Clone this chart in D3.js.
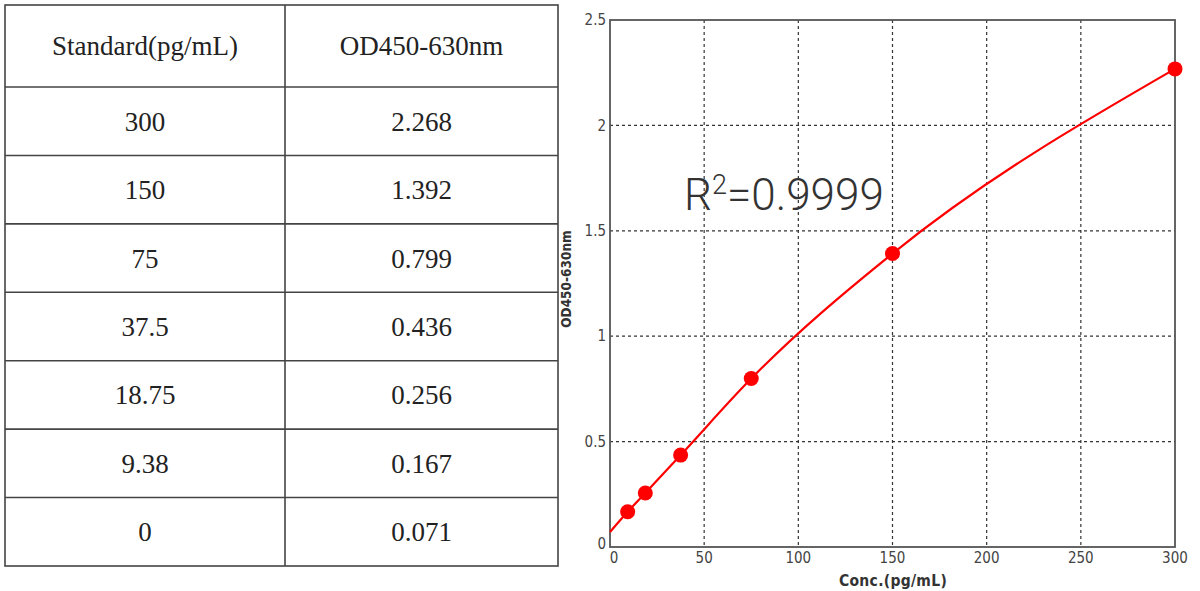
<!DOCTYPE html>
<html>
<head>
<meta charset="utf-8">
<script src="https://cdn.jsdelivr.net/npm/d3@7"></script>
<style>
  body { margin: 0; background: #fff; }
  svg { display: block; }
</style>
</head>
<body>
<svg id="fig" width="1200" height="591"></svg>
<script>
// table values
const headers = ['Standard(pg/mL)', 'OD450-630nm'];
const standards = ['300', '150', '75', '37.5', '18.75', '9.38', '0'];
const odText = ['2.268', '1.392', '0.799', '0.436', '0.256', '0.167', '0.071'];

// curve values
const conc = [0, 9.38, 18.75, 37.5, 75, 150, 300];
const od = [0.071, 0.167, 0.256, 0.436, 0.799, 1.392, 2.268];
const xTicks = [0, 50, 100, 150, 200, 250, 300];
const yTicks = [0, 0.5, 1, 1.5, 2, 2.5];

const svg = d3.select('#fig');

// ---- table ----
const tbl = { left: 5, right: 558, top: 5, headBottom: 87, bottom: 566, mid: 285 };
const table = svg.append('g');

const colX = d3.scaleOrdinal().domain([0, 1]).range([tbl.left, tbl.mid]);
const colW = [tbl.mid - tbl.left, tbl.right - tbl.mid];

const rowY = d3.scaleBand()
    .domain(d3.range(standards.length))
    .range([tbl.headBottom, tbl.bottom]);

// borders
table.append('rect')
    .attr('x', tbl.left).attr('y', tbl.top)
    .attr('width', tbl.right - tbl.left).attr('height', tbl.bottom - tbl.top)
    .attr('fill', 'none').attr('stroke', '#444').attr('stroke-width', 1.6);

table.append('line')
    .attr('x1', tbl.mid).attr('x2', tbl.mid)
    .attr('y1', tbl.top).attr('y2', tbl.bottom)
    .attr('stroke', '#444').attr('stroke-width', 1.6);

table.selectAll('.rowline')
    .data(d3.range(standards.length))
    .join('line')
    .attr('x1', tbl.left).attr('x2', tbl.right)
    .attr('y1', d => rowY(d)).attr('y2', d => rowY(d))
    .attr('stroke', '#444').attr('stroke-width', 1.6);

const cellFont = "'Liberation Serif', 'Times New Roman', serif";

table.selectAll('.head')
    .data(headers)
    .join('text')
    .attr('x', (d, i) => colX(i) + colW[i] / 2)
    .attr('y', (tbl.top + tbl.headBottom) / 2)
    .attr('dy', '0.35em')
    .attr('text-anchor', 'middle')
    .style('font-family', cellFont)
    .style('font-size', '27px')
    .attr('fill', '#222')
    .text(d => d);

const cells = [];
standards.forEach((s, i) => {
    cells.push({ row: i, col: 0, t: s });
    cells.push({ row: i, col: 1, t: odText[i] });
});

table.selectAll('.cell')
    .data(cells)
    .join('text')
    .attr('x', d => colX(d.col) + colW[d.col] / 2)
    .attr('y', d => rowY(d.row) + rowY.bandwidth() / 2)
    .attr('dy', '0.35em')
    .attr('text-anchor', 'middle')
    .style('font-family', cellFont)
    .style('font-size', '27px')
    .attr('fill', '#222')
    .text(d => d.t);

// ---- chart ----
const plot = { left: 610, right: 1175, top: 20, bottom: 547 };
const chart = svg.append('g');

const xscale = d3.scaleLinear().domain([0, 300]).range([plot.left, plot.right]);
const yscale = d3.scaleLinear().domain([0, 2.5]).range([plot.bottom, plot.top]);

// grid
chart.selectAll('.gx')
    .data(xTicks.slice(1, -1))
    .join('line')
    .attr('x1', d => xscale(d)).attr('x2', d => xscale(d))
    .attr('y1', plot.top).attr('y2', plot.bottom)
    .attr('stroke', '#333').attr('stroke-width', 1.2)
    .attr('stroke-dasharray', '3,3');

chart.selectAll('.gy')
    .data(yTicks.slice(1, -1))
    .join('line')
    .attr('x1', plot.left).attr('x2', plot.right)
    .attr('y1', d => yscale(d)).attr('y2', d => yscale(d))
    .attr('stroke', '#333').attr('stroke-width', 1.2)
    .attr('stroke-dasharray', '3,3');

chart.append('rect')
    .attr('x', plot.left).attr('y', plot.top)
    .attr('width', plot.right - plot.left).attr('height', plot.bottom - plot.top)
    .attr('fill', 'none').attr('stroke', '#555').attr('stroke-width', 1.8);

// tick labels
const tickFont = "'Liberation Sans Narrow', 'DejaVu Sans Condensed', Arial, sans-serif";

chart.selectAll('.xt')
    .data(xTicks)
    .join('text')
    .attr('x', d => xscale(d) + (d === 0 ? 4 : 0))
    .attr('y', plot.bottom + 16)
    .attr('text-anchor', 'middle')
    .style('font-family', tickFont)
    .style('font-size', '15px')
    .attr('fill', '#444')
    .text(d => d);

chart.selectAll('.yt')
    .data(yTicks)
    .join('text')
    .attr('x', plot.left - 4)
    .attr('y', d => yscale(d))
    .attr('dy', d => d === 0 ? '0.1em' : '0.35em')
    .attr('text-anchor', 'end')
    .style('font-family', tickFont)
    .style('font-size', '15px')
    .attr('fill', '#444')
    .text(d => d);

// axis titles
const titleFont = "'DejaVu Sans Condensed', Arial, sans-serif";

chart.append('text')
    .attr('x', 893)
    .attr('y', 586)
    .attr('text-anchor', 'middle')
    .style('font-family', titleFont)
    .style('font-weight', 'bold')
    .style('font-size', '15.5px')
    .style('letter-spacing', '0.3px')
    .attr('fill', '#333')
    .text('Conc.(pg/mL)');

chart.append('text')
    .attr('transform', 'translate(571, 279) rotate(-90)')
    .attr('text-anchor', 'middle')
    .style('font-family', titleFont)
    .style('font-weight', 'bold')
    .style('font-size', '13.5px')
    .attr('fill', '#333')
    .text('OD450-630nm');

// fit curve
const pts = conc.map((c, i) => ({ x: c, y: od[i] }));
const line = d3.line()
    .x(d => xscale(d.x))
    .y(d => yscale(d.y))
    .curve(d3.curveMonotoneX);

chart.append('path')
    .datum(pts)
    .attr('d', line)
    .attr('fill', 'none')
    .attr('stroke', '#ff0000')
    .attr('stroke-width', 2.2);

chart.selectAll('.pt')
    .data(pts.filter(d => d.x > 0))
    .join('circle')
    .attr('cx', d => xscale(d.x))
    .attr('cy', d => yscale(d.y))
    .attr('r', 7.5)
    .attr('fill', '#ff0000');

// R squared
const r2 = chart.append('text')
    .attr('x', 684)
    .attr('y', 210)
    .style('font-family', "Roboto, 'Noto Sans', sans-serif")
    .style('font-weight', 300)
    .style('font-size', '44px')
    .attr('fill', '#333');
r2.append('tspan').text('R');
r2.append('tspan').attr('dy', -16).style('font-size', '27px').text('2');
r2.append('tspan').attr('dy', 16).text('=0.9999');
</script>
</body>
</html>
